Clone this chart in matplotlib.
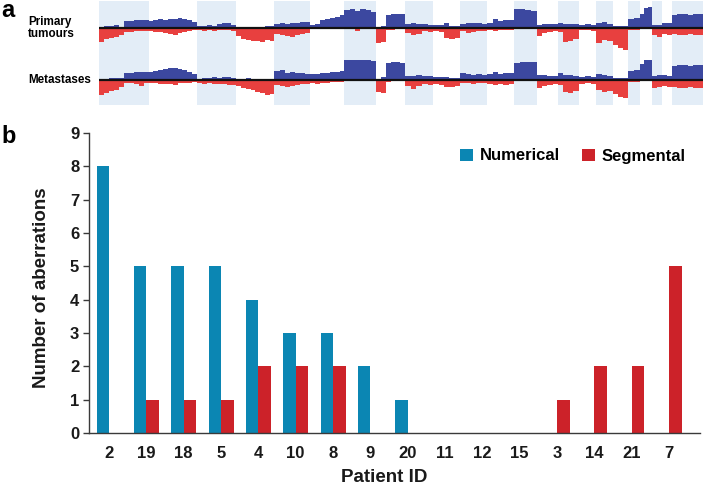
import matplotlib
matplotlib.use('Agg')
import matplotlib.pyplot as plt
import numpy as np
from matplotlib.patches import Patch

plt.rcParams['font.family'] = ['Liberation Sans', 'DejaVu Sans']
plt.rcParams['font.weight'] = 'bold'

# ---------------- Panel a data (copy-number profile, heights in px) ----------------
chrom_names = ['1', '2', '3', '4', '5', '6', '7', '8', '9', '10', '11', '12',
               '13', '14', '15', '16', '17', '18', '19', '20', '21', '22', 'X']
chrom_len_mb = [249, 243, 198, 191, 181, 171, 159, 146, 141, 136, 135, 134,
                115, 107, 103, 90, 81, 78, 59, 63, 48, 51, 155]

primary_gain = [
    [1, 2, 2, 3, 1, 7, 7, 8, 8, 8],
    [7, 8, 9, 8, 9, 9, 10, 9, 8, 6],
    [2, 2, 3, 2, 4, 5, 5, 3],
    [1, 1, 1, 1, 1, 1, 2, 2],
    [4, 5, 4, 5, 5, 6, 6],
    [3, 4, 8, 9, 10, 11, 13],
    [18, 19, 17, 19, 18, 16],
    [1, 2, 13, 14, 14, 14],
    [4, 5, 4, 4, 3],
    [3, 3, 5, 2, 2],
    [4, 5, 5, 5, 4],
    [5, 9, 7, 8, 8],
    [19, 19, 18, 17],
    [3, 4, 4, 4],
    [5, 4, 4, 4],
    [3, 4, 3],
    [5, 6, 4],
    [2, 2, 2],
    [9, 10],
    [14, 20, 21],
    [3, 3],
    [5, 5],
    [13, 14, 14, 13, 14, 14],
]
primary_loss = [
    [14, 11, 10, 9, 7, 4, 4, 3, 3, 3],
    [3, 4, 4, 5, 6, 7, 5, 4, 3, 2],
    [2, 3, 2, 3, 2, 2, 2, 3],
    [8, 11, 12, 13, 13, 14, 12, 13],
    [6, 7, 8, 9, 7, 6, 5],
    [1, 1, 1, 1, 1, 1, 1],
    [1, 1, 3, 1, 1, 1],
    [15, 14, 2, 2, 1, 1],
    [5, 7, 6, 3, 4],
    [3, 4, 10, 11, 10],
    [3, 5, 4, 3, 3],
    [2, 3, 2, 2, 2],
    [1, 1, 1, 1],
    [8, 5, 4, 3],
    [4, 14, 13, 11],
    [2, 2, 3],
    [15, 12, 13],
    [17, 20, 22],
    [2, 2],
    [1, 1, 1],
    [7, 9],
    [6, 7],
    [6, 7, 7, 6, 7, 7],
]
metastases_gain = [
    [1, 1, 2, 2, 2, 7, 7, 8, 8, 8],
    [8, 9, 10, 11, 12, 12, 11, 10, 8, 6],
    [1, 2, 2, 3, 2, 3, 3, 2],
    [1, 1, 2, 1, 1, 1, 1, 1],
    [9, 10, 7, 8, 7, 7, 6],
    [6, 6, 7, 7, 8, 8, 9],
    [20, 20, 20, 20, 20, 19],
    [1, 3, 17, 18, 18, 17],
    [4, 4, 5, 4, 4],
    [3, 3, 3, 2, 2],
    [7, 6, 5, 6, 5],
    [6, 8, 6, 7, 7],
    [17, 18, 18, 18],
    [5, 5, 4, 4],
    [7, 5, 5, 4],
    [3, 4, 3],
    [6, 5, 4],
    [2, 2, 2],
    [9, 10],
    [16, 20, 20],
    [4, 5],
    [5, 4],
    [14, 15, 15, 14, 15, 15],
]
metastases_loss = [
    [15, 13, 11, 10, 7, 3, 3, 4, 6, 3],
    [3, 3, 4, 4, 4, 5, 3, 3, 3, 2],
    [3, 4, 3, 4, 4, 4, 5, 5],
    [6, 8, 9, 10, 12, 13, 15, 14],
    [5, 6, 7, 6, 5, 4, 4],
    [3, 4, 3, 3, 2, 2, 2],
    [1, 1, 1, 1, 1, 1],
    [12, 13, 2, 1, 1, 1],
    [6, 9, 6, 4, 5],
    [4, 5, 7, 7, 6],
    [3, 3, 4, 3, 3],
    [4, 5, 4, 5, 4],
    [1, 1, 1, 1],
    [8, 6, 5, 4],
    [5, 12, 13, 11],
    [4, 3, 4],
    [10, 12, 11],
    [14, 17, 18],
    [2, 2],
    [1, 1, 1],
    [8, 7],
    [6, 7],
    [7, 8, 8, 7, 8, 8],
]
track_labels = ['Primary\ntumours', 'Metastases']

# ---------------- Panel b data ----------------
patients = ['2', '19', '18', '5', '4', '10', '8', '9', '20', '11', '12', '15', '3', '14', '21', '7']
numerical = [8, 5, 5, 5, 4, 3, 3, 2, 1, 0, 0, 0, 0, 0, 0, 0]
segmental = [0, 1, 1, 1, 2, 2, 2, 0, 0, 0, 0, 0, 1, 2, 2, 5]
series_names = ['Numerical', 'Segmental']

# ---------------- styles ----------------
W, H = 709, 488
BAND = '#e3edf7'
GAIN = '#3c48a0'
LOSS = '#e8403f'
BAR_BLUE = '#0b86b3'
BAR_RED = '#cc2229'
AXC = '#3a3a3a'

fig = plt.figure(figsize=(W / 100, H / 100), dpi=100)

# ---------------- Panel a ----------------
ax_a = fig.add_axes([99 / W, 1 - 105 / H, 604 / W, 104 / H])
starts = np.concatenate([[0], np.cumsum(chrom_len_mb)[:-1]])
total = float(np.sum(chrom_len_mb))
ax_a.set_xlim(0, total)
ax_a.set_ylim(105, 1)
ax_a.axis('off')

for i, (s, L) in enumerate(zip(starts, chrom_len_mb)):
    if i % 2 == 0:
        ax_a.axvspan(s, s + L, color=BAND, lw=0, zorder=0)

def draw_track(gains, losses, base):
    for s, L, g, l in zip(starts, chrom_len_mb, gains, losses):
        g = np.asarray(g, float)
        l = np.asarray(l, float)
        eg = s + L * np.arange(len(g) + 1) / len(g)
        el = s + L * np.arange(len(l) + 1) / len(l)
        ax_a.stairs(base - g, eg, baseline=base, fill=True, color=GAIN, lw=0, zorder=2)
        ax_a.stairs(base + l, el, baseline=base, fill=True, color=LOSS, lw=0, zorder=2)
    ax_a.plot([0, total], [base, base], color='#111111', lw=1.6, zorder=3)

draw_track(primary_gain, primary_loss, 27.7)
draw_track(metastases_gain, metastases_loss, 80.0)

fig.text(28 / W, 1 - 28 / H, track_labels[0], ha='left', va='center',
         fontsize=8.4, fontweight='bold', linespacing=1.05)
fig.text(28 / W, 1 - 80 / H, track_labels[1], ha='left', va='center',
         fontsize=8.4, fontweight='bold')
fig.text(1 / W, 1 - 17 / H, 'a', ha='left', va='baseline', fontsize=17, fontweight='bold')
fig.text(1 / W, 1 - 143 / H, 'b', ha='left', va='baseline', fontsize=17, fontweight='bold')

# ---------------- Panel b ----------------
ax_b = fig.add_axes([89 / W, 1 - 433 / H, (700 - 89) / W, 300 / H])
x = np.arange(len(patients))
w = 0.335
ax_b.bar(x - w / 2, numerical, w, color=BAR_BLUE, lw=0, label=series_names[0])
ax_b.bar(x + w / 2, segmental, w, color=BAR_RED, lw=0, label=series_names[1])
ax_b.set_xlim(-0.536, 15.83)
ax_b.set_ylim(0, 9)
ax_b.set_yticks(range(0, 10))
ax_b.set_xticks(x)
ax_b.set_xticklabels(patients)
for sp in ['top', 'right']:
    ax_b.spines[sp].set_visible(False)
for sp in ['left', 'bottom']:
    ax_b.spines[sp].set_color(AXC)
    ax_b.spines[sp].set_linewidth(1.0)
ax_b.tick_params(axis='y', length=4, width=1, color=AXC, pad=3, labelsize=12)
ax_b.tick_params(axis='x', length=0, pad=9, labelsize=12)
for t in ax_b.get_xticklabels() + ax_b.get_yticklabels():
    t.set_fontweight('bold')
    t.set_color('#1a1a1a')

fig.text(42 / W, 1 - 288 / H, 'Number of aberrations', rotation=90, ha='center',
         va='center', fontsize=13.5, fontweight='bold', color='#1a1a1a')
fig.text(384 / W, 1 - 478 / H, 'Patient ID', ha='center', va='center',
         fontsize=13.5, fontweight='bold', color='#1a1a1a')

handles = [Patch(facecolor=BAR_BLUE, edgecolor='none'), Patch(facecolor=BAR_RED, edgecolor='none')]
leg = fig.legend(handles, series_names, loc='center right',
                 bbox_to_anchor=(686 / W, 1 - 156 / H), ncol=2, frameon=False,
                 prop={'size': 12, 'weight': 'bold'}, handlelength=0.75, handleheight=0.75,
                 handletextpad=0.45, columnspacing=1.3, borderpad=0, borderaxespad=0)

fig.savefig('out.png', dpi=100)
